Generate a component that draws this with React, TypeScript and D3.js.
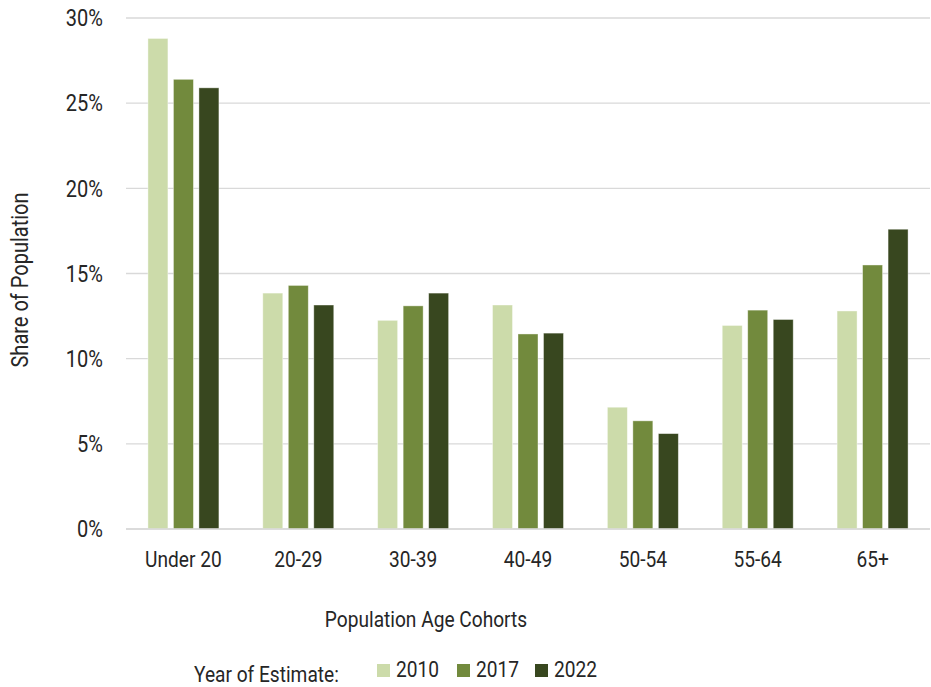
import { useEffect, useRef } from "react";
import * as d3 from "d3";

const cohorts = ["Under 20", "20-29", "30-39", "40-49", "50-54", "55-64", "65+"];
const years = ["2010", "2017", "2022"];
const share2010 = [28.8, 13.85, 12.25, 13.15, 7.15, 11.95, 12.8];
const share2017 = [26.4, 14.3, 13.1, 11.45, 6.35, 12.85, 15.5];
const share2022 = [25.9, 13.15, 13.85, 11.5, 5.6, 12.3, 17.6];
const yTicks = [0, 5, 10, 15, 20, 25, 30];

const colors = ["#ccdbaa", "#728a3d", "#38471f"];
const FONT = "Roboto, 'Noto Sans', sans-serif";
const TEXT = "#262626";
// Roboto has no condensed cut installed, so squeeze it horizontally
const SQUEEZE = 0.87;

type Sel = d3.Selection<SVGSVGElement, unknown, null, undefined>;

function label(svg: Sel, x: number, y: number, str: string, size: number, anchor = "start", rotate = 0, dy = "0") {
    svg.append("text")
        .attr("transform", `translate(${x},${y}) rotate(${rotate}) scale(${SQUEEZE},1)`)
        .attr("text-anchor", anchor)
        .attr("dy", dy)
        .attr("font-size", size)
        .attr("fill", TEXT)
        .text(str);
}

export default function App() {
    const svgRef = useRef<SVGSVGElement>(null);

    useEffect(() => {
        document.body.style.margin = "0";
        if (!svgRef.current) return;
        const svg = d3.select(svgRef.current);
        svg.selectAll("*").remove();

        const W = 931, H = 687;
        const left = 126, right = 930, top = 18, bottom = 529;

        svg.attr("width", W).attr("height", H).style("font-family", FONT);

        const x = d3.scaleBand<string>()
            .domain(cohorts)
            .range([left, right])
            .paddingInner(0.382)
            .paddingOuter(0.191);

        const xInner = d3.scaleBand<string>()
            .domain(years)
            .range([0, x.bandwidth()])
            .paddingInner(0.216);

        const y = d3.scaleLinear().domain([0, 30]).range([bottom, top]);

        // Gridlines
        svg.append("g")
            .selectAll("line")
            .data(yTicks)
            .enter().append("line")
            .attr("x1", left)
            .attr("x2", right)
            .attr("y1", d => y(d))
            .attr("y2", d => y(d))
            .attr("stroke", "#d9d9d9")
            .attr("stroke-width", 1.3);

        // Y tick labels
        yTicks.forEach(t => label(svg, 103, y(t), `${t}%`, 23, "end", 0, "0.36em"));

        // Bars
        const series = [share2010, share2017, share2022];
        series.forEach((values, si) => {
            svg.append("g")
                .selectAll("rect")
                .data(values)
                .enter().append("rect")
                .attr("x", (_, i) => x(cohorts[i])! + xInner(years[si])!)
                .attr("y", d => y(d))
                .attr("width", xInner.bandwidth())
                .attr("height", d => y(0) - y(d))
                .attr("fill", colors[si])
                .attr("stroke", "#ffffff")
                .attr("stroke-opacity", 0.5)
                .attr("stroke-width", 0.8);
        });

        // Bottom axis line
        svg.append("line")
            .attr("x1", left).attr("x2", right)
            .attr("y1", y(0)).attr("y2", y(0))
            .attr("stroke", "#d9d9d9")
            .attr("stroke-width", 1.3);

        // X tick labels
        cohorts.forEach(c => label(svg, x(c)! + x.bandwidth() / 2, 567, c, 22, "middle"));

        // Axis titles
        label(svg, 426, 627, "Population Age Cohorts", 22, "middle");
        label(svg, 28, 280, "Share of Population", 23, "middle", -90);

        // Legend
        label(svg, 194, 682, "Year of Estimate:", 22);

        const legendX = [377, 457, 535];
        years.forEach((yr, i) => {
            svg.append("rect")
                .attr("x", legendX[i])
                .attr("y", 664)
                .attr("width", 13)
                .attr("height", 13)
                .attr("fill", colors[i]);
            label(svg, legendX[i] + 19, 677, yr, 22);
        });
    }, []);

    return <svg ref={svgRef} style={{ display: "block" }}></svg>;
}
